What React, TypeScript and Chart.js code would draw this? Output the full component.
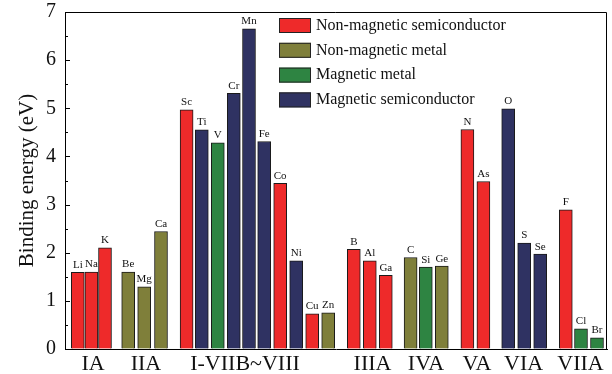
import React, { useEffect, useRef } from "react";
import { Chart, registerables } from "chart.js";

Chart.register(...registerables);

const elements = ["Li", "Na", "K", "Be", "Mg", "Ca", "Sc", "Ti", "V", "Cr", "Mn", "Fe", "Co", "Ni", "Cu", "Zn", "B", "Al", "Ga", "C", "Si", "Ge", "N", "As", "O", "S", "Se", "F", "Cl", "Br"];
const positions = [0.8, 1.65, 2.5, 3.95, 4.95, 6.0, 7.6, 8.55, 9.55, 10.55, 11.5, 12.45, 13.45, 14.45, 15.45, 16.45, 18.05, 19.05, 20.05, 21.6, 22.55, 23.55, 25.15, 26.15, 27.7, 28.7, 29.7, 31.3, 32.25, 33.25];
const bindingEnergy = [1.59, 1.6, 2.1, 1.6, 1.29, 2.44, 4.97, 4.55, 4.28, 5.31, 6.65, 4.31, 3.44, 1.83, 0.73, 0.75, 2.07, 1.83, 1.53, 1.9, 1.7, 1.72, 4.56, 3.48, 4.99, 2.2, 1.97, 2.89, 0.42, 0.23];
const types = [0, 0, 0, 1, 1, 1, 0, 3, 2, 3, 3, 3, 0, 3, 0, 1, 0, 0, 0, 1, 2, 1, 0, 0, 3, 3, 3, 0, 2, 2];

const typeNames = ["Non-magnetic semiconductor", "Non-magnetic metal", "Magnetic metal", "Magnetic semiconductor"];
const typeColors = ["#EE2A2A", "#7F7F3A", "#2E8442", "#2F3262"];

const groupNames = ["IA", "IIA", "I-VIIB~VIII", "IIIA", "IVA", "VA", "VIA", "VIIA"];
const groupPositions = [1.75, 5.06, 11.25, 19.22, 22.56, 25.75, 28.66, 32.22];

const yMin = 0;
const yMax = 7;
const xMax = 33.875;

const SERIF = "'Liberation Serif', 'Times New Roman', serif";

const overlayPlugin = {
  id: "overlay",
  afterDatasetsDraw(chart: any) {
    const { ctx, chartArea } = chart;
    const { left, right, top, bottom } = chartArea;
    const yScale = chart.scales.y;
    ctx.save();
    // frame
    ctx.strokeStyle = "#000";
    ctx.lineWidth = 1;
    ctx.beginPath();
    ctx.moveTo(left, top + 0.5);
    ctx.lineTo(right - 0.5, top + 0.5);
    ctx.lineTo(right - 0.5, bottom);
    ctx.stroke();
    // inward ticks
    ctx.beginPath();
    for (let v = yMin; v <= yMax + 1e-9; v += 0.5) {
      const py = Math.round(yScale.getPixelForValue(v)) + 0.5;
      const len = Math.abs(v - Math.round(v)) < 1e-9 ? 5 : 3;
      ctx.moveTo(left, py);
      ctx.lineTo(left + len, py);
    }
    ctx.stroke();
    // bar labels
    const meta = chart.getDatasetMeta(0);
    ctx.fillStyle = "#111";
    ctx.font = `11px ${SERIF}`;
    ctx.textAlign = "center";
    ctx.textBaseline = "bottom";
    meta.data.forEach((el: any, i: number) => {
      ctx.fillText(elements[i], el.x, el.y - 2);
    });
    // legend
    const lx = 279;
    const ly = 18;
    const step = 24.8;
    ctx.font = `16px ${SERIF}`;
    ctx.textAlign = "left";
    ctx.textBaseline = "middle";
    typeNames.forEach((name, i) => {
      const y = ly + i * step;
      ctx.fillStyle = typeColors[i];
      ctx.fillRect(lx, y, 32, 15);
      ctx.strokeStyle = "#222";
      ctx.strokeRect(lx + 0.5, y + 0.5, 31, 14);
      ctx.fillStyle = "#111";
      ctx.fillText(name, lx + 37, y + 7.5);
    });
    ctx.restore();
  },
};

export default function App() {
  const ref = useRef<HTMLCanvasElement>(null);
  useEffect(() => {
    document.body.style.margin = "0";
    const canvas = ref.current!;
    const chart = new Chart(canvas, {
      type: "bar",
      data: {
        datasets: [
          {
            data: positions.map((x, i) => ({ x, y: bindingEnergy[i] })),
            backgroundColor: types.map((t) => typeColors[t]),
            borderColor: "#1a1a1a",
            borderWidth: 1,
            barThickness: 13,
          } as any,
        ],
      },
      options: {
        animation: false,
        responsive: false,
        devicePixelRatio: 1,
        layout: { padding: { top: 12, right: 5, left: 0, bottom: 0 } },
        plugins: { legend: { display: false }, tooltip: { enabled: false } },
        scales: {
          x: {
            type: "linear",
            min: 0,
            max: xMax,
            offset: false,
            grid: { display: true, drawOnChartArea: false, drawTicks: false },
            border: { display: true, color: "#000", width: 1 },
            ticks: {
              autoSkip: false,
              maxRotation: 0,
              color: "#111",
              padding: 2,
              font: { family: SERIF, size: 22 },
              callback: (_v: any, i: number) => groupNames[i],
            },
            afterBuildTicks: (s: any) => {
              s.ticks = groupPositions.map((value) => ({ value }));
            },
            afterFit: (s: any) => {
              s.height = 25;
              s.paddingLeft = 0;
              s.paddingRight = 0;
            },
          } as any,
          y: {
            min: yMin,
            max: yMax,
            grid: { display: true, drawOnChartArea: false, drawTicks: false },
            border: { display: true, color: "#000", width: 1 },
            ticks: {
              stepSize: 1,
              color: "#111",
              padding: 9,
              font: { family: SERIF, size: 20 },
            },
            title: {
              display: true,
              text: "Binding energy (eV)",
              color: "#111",
              font: { family: SERIF, size: 21 },
              padding: { top: 15, bottom: 0 },
            },
            afterFit: (s: any) => {
              s.width = 65;
              s.paddingTop = 0;
              s.paddingBottom = 0;
            },
          } as any,
        },
      },
      plugins: [overlayPlugin],
    });
    return () => chart.destroy();
  }, []);
  return (
    <div style={{ width: 612, height: 374 }}>
      <canvas ref={ref} width={612} height={374} style={{ width: 612, height: 374 }} />
    </div>
  );
}
